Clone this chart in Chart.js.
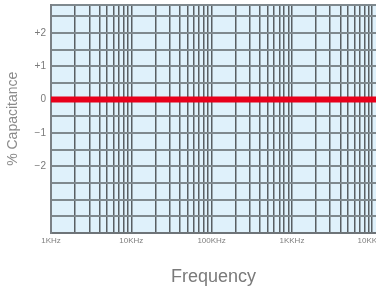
<!DOCTYPE html>
<html>
<head>
<meta charset="utf-8">
<script src="https://cdn.jsdelivr.net/npm/chart.js@4"></script>
<style>
html,body{margin:0;padding:0;overflow:hidden;background:#fff;width:376px;height:292px;}
#wrap{width:400px;height:292px;}
</style>
</head>
<body>
<div id="wrap"><canvas id="c" width="400" height="292"></canvas></div>
<script>
// Data
const frequencies = [1e3, 1e4, 1e5, 1e6, 1e7, 2e7];
const capacitanceChange = [0, 0, 0, 0, 0, 0];
const decadeValues = [1e3, 1e4, 1e5, 1e6, 1e7];
const xTickLabels = ['1KHz', '10KHz', '100KHz', '1KKHz', '10KKHz'];
const yTickValues = [2, 1, 0, -1, -2];
const yTickLabels = ['+2', '+1', '0', '\u22121', '\u22122'];
const yMin = -4, yMax = 2.85, yStep = 0.5;
const xMin = 1e3, xMax = 1.114e7;

const points = frequencies.map((f, i) => ({x: f, y: capacitanceChange[i]}));

const bgPlugin = {
  id: 'bg',
  beforeDraw(chart) {
    const a = chart.chartArea, ctx = chart.ctx;
    ctx.save();
    ctx.fillStyle = '#dff1fb';
    ctx.fillRect(a.left, a.top, a.right - a.left, a.bottom - a.top);
    ctx.restore();
  }
};

new Chart(document.getElementById('c'), {
  type: 'line',
  data: {
    datasets: [{
      data: points,
      borderColor: '#e8001b',
      borderWidth: 6,
      pointRadius: 0,
      fill: false,
      tension: 0
    }]
  },
  options: {
    responsive: false,
    animation: false,
    layout: {padding: {left: 0, right: 24, top: 4.5, bottom: 0}},
    plugins: {legend: {display: false}, tooltip: {enabled: false}},
    scales: {
      x: {
        type: 'logarithmic',
        min: xMin,
        max: xMax,
        afterBuildTicks(scale) {
          const t = [];
          decadeValues.forEach(d => {
            for (let m = 1; m <= 9; m++) {
              const v = m * d;
              if (v <= xMax) t.push({value: v});
            }
          });
          scale.ticks = t;
        },
        afterFit(scale) { scale.height = 59; scale.paddingLeft = 0; scale.paddingRight = 0; },
        grid: {color: '#595f63', lineWidth: 1.5, drawTicks: false},
        border: {color: '#6e7478', width: 2},
        ticks: {
          autoSkip: false,
          maxRotation: 0,
          padding: 3,
          color: '#7f7f7f',
          font: {family: 'Liberation Sans', size: 8},
          callback(value) {
            const i = decadeValues.findIndex(d => Math.abs(d - value) < d * 1e-6);
            return i >= 0 ? xTickLabels[i] : '';
          }
        },
        title: {
          display: true,
          text: 'Frequency',
          color: '#7a7a7a',
          font: {family: 'Liberation Sans', size: 18},
          padding: {top: 4, bottom: 4}
        }
      },
      y: {
        type: 'linear',
        min: yMin,
        max: yMax,
        afterBuildTicks(scale) {
          const t = [];
          for (let v = yMin; v < yMax - 1e-9; v += yStep) t.push({value: Math.round(v * 10) / 10});
          t.push({value: yMax});
          scale.ticks = t;
        },
        afterFit(scale) { scale.width = 51; scale.paddingTop = 0; scale.paddingBottom = 0; },
        grid: {color: '#7f898e', lineWidth: 2, drawTicks: false},
        border: {color: '#7a8085', width: 2},
        ticks: {
          autoSkip: false,
          padding: 5,
          color: '#7a7a7a',
          font: {family: 'Liberation Sans', size: 10},
          callback(value) {
            const i = yTickValues.indexOf(value);
            return i >= 0 ? yTickLabels[i] : '';
          }
        },
        title: {
          display: true,
          text: '% Capacitance',
          color: '#8a8a8a',
          font: {family: 'Liberation Sans', size: 14},
          padding: {top: 5, bottom: 4}
        }
      }
    }
  },
  plugins: [bgPlugin]
});
</script>
</body>
</html>
